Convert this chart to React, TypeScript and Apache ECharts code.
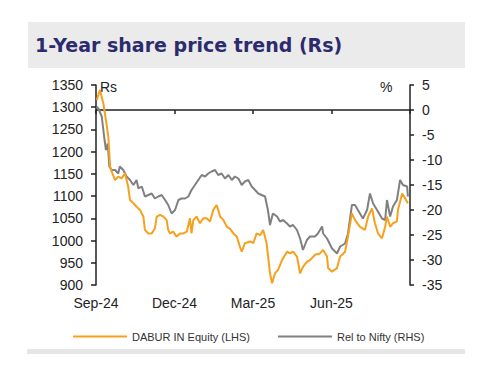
import React, { useEffect, useRef } from "react";
import * as echarts from "echarts";

// x positions in months from Sep-24
const daburMonths = [0.03,0.15,0.28,0.38,0.47,0.54,0.6,0.73,0.85,0.98,1.11,1.23,1.3,1.43,1.55,1.68,1.81,1.87,2.0,2.13,2.25,2.32,2.45,2.57,2.7,2.76,2.83,2.95,3.08,3.21,3.34,3.47,3.59,3.65,3.72,3.85,3.97,4.1,4.23,4.36,4.48,4.61,4.67,4.74,4.87,5.0,5.12,5.25,5.38,5.5,5.57,5.69,5.89,6.01,6.14,6.27,6.39,6.52,6.65,6.73,6.84,6.96,7.11,7.3,7.41,7.53,7.68,7.8,7.91,8.06,8.18,8.37,8.56,8.68,8.83,8.87,9.02,9.21,9.33,9.52,9.63,9.78,9.9,10.09,10.28,10.4,10.55,10.66,10.78,10.93,11.05,11.12,11.24,11.35,11.5,11.54,11.7,11.81,11.92];
const daburPrice = [1316,1339,1309,1271,1234,1166,1155,1136,1144,1140,1151,1121,1091,1084,1076,1069,1054,1024,1016,1016,1027,1054,1058,1054,1046,1024,1016,1020,1009,1016,1016,1020,1050,1016,1046,1054,1039,1050,1050,1043,1069,1080,1069,1054,1046,1031,1027,1016,1009,986,975,994,998,994,1016,1012,1024,994,926,904,926,934,956,975,971,975,964,926,941,952,956,968,971,979,964,938,930,938,964,975,1009,1061,1046,1031,1024,1054,1072,1039,1016,1005,1031,1054,1031,1039,1043,1069,1106,1095,1084];

const relMonths = [0.03,0.09,0.22,0.31,0.38,0.45,0.51,0.6,0.73,0.85,0.91,1.04,1.17,1.3,1.43,1.55,1.62,1.75,1.87,2.0,2.13,2.25,2.38,2.51,2.64,2.76,2.89,3.02,3.15,3.27,3.4,3.53,3.65,3.78,3.91,4.04,4.17,4.29,4.42,4.55,4.67,4.8,4.93,5.06,5.19,5.31,5.44,5.57,5.69,5.82,5.95,6.08,6.2,6.33,6.46,6.57,6.65,6.76,6.92,7.03,7.15,7.3,7.41,7.53,7.68,7.8,7.91,8.06,8.18,8.37,8.48,8.64,8.68,8.83,9.02,9.21,9.33,9.52,9.63,9.78,9.9,10.01,10.2,10.36,10.47,10.59,10.74,10.93,11.05,11.12,11.24,11.35,11.5,11.62,11.73,11.89,11.92];
const relToNifty = [0.7,0.3,-1.3,-5.3,-8,-6.7,-11.3,-12,-12,-12.7,-11.3,-12,-13.3,-14,-15,-14,-15.7,-15.3,-17.3,-17,-16.7,-17.7,-17.3,-17,-18,-19,-20.7,-20,-18,-17.7,-17.7,-17.3,-16,-15,-14,-13,-13.3,-12.7,-12.3,-12,-13,-12.7,-13.7,-13,-14,-13.3,-13.7,-15,-14.3,-14,-15.3,-16,-16.7,-17,-17.3,-20,-23,-20.7,-21.3,-22.3,-22,-22.7,-23.3,-23,-24,-25.7,-28,-26,-25.3,-25.3,-24.7,-23.3,-24.7,-25.7,-27.7,-28.7,-27.3,-26.7,-24.7,-19,-19,-20,-21.7,-20,-16.7,-18.7,-20,-21.7,-22,-18,-21.3,-19.3,-18,-14,-15,-15.3,-17.3];

const xTickLabels = ["Sep-24", "Dec-24", "Mar-25", "Jun-25", ""];
const seriesNames = ["DABUR IN Equity (LHS)", "Rel to Nifty (RHS)"];
const titleText = "1-Year share price trend (Rs)";

export default function App() {
  const ref = useRef<HTMLDivElement>(null);
  useEffect(() => {
    if (!ref.current) return;
    const chart = echarts.init(ref.current, null, { renderer: "svg" });
    const font = "Liberation Sans, Arial, sans-serif";
    chart.setOption({
      animation: false,
      backgroundColor: "#ffffff",
      grid: { left: 96, right: 90, top: 85, bottom: 92, containLabel: false },
      graphic: [
        { type: "rect", left: 28, top: 22, shape: { width: 437, height: 46 }, style: { fill: "#ebebeb" }, z: 0 },
        { type: "text", left: 35, top: 35, style: { text: titleText, font: "bold 19px 'DejaVu Sans', Verdana, sans-serif", fill: "#2b2b6e" } },
        { type: "rect", left: 27, top: 349, shape: { width: 438, height: 5 }, style: { fill: "#e6e6e6" } },
        { type: "text", left: 100, top: 80, style: { text: "Rs", font: "14px " + font, fill: "#222222" } },
        { type: "text", left: 380, top: 80, style: { text: "%", font: "14px " + font, fill: "#222222" } },
      ],
      legend: {
        data: seriesNames,
        left: 68,
        top: 326,
        itemWidth: 54,
        itemHeight: 14,
        itemGap: 28,
        icon: "path://M0,6 L54,6 L54,8 L0,8 Z",
        textStyle: { fontFamily: font, fontSize: 11, color: "#333333" },
      },
      xAxis: {
        type: "value",
        min: 0,
        max: 12,
        interval: 3,
        splitLine: { show: false },
        axisLine: { lineStyle: { color: "#222222", width: 1.5 } },
        axisTick: { show: true, length: 4, lineStyle: { color: "#222222", width: 1.5 } },
        axisLabel: {
          margin: 11,
          fontFamily: font,
          fontSize: 14,
          color: "#222222",
          formatter: (v: number) => xTickLabels[Math.round(v / 3)] ?? "",
        },
      },
      yAxis: [
        {
          type: "value",
          min: 900,
          max: 1350,
          interval: 50,
          position: "left",
          splitLine: { show: false },
          axisLine: { show: true, lineStyle: { color: "#222222", width: 1.5 } },
          axisTick: { show: true, length: 5, lineStyle: { color: "#222222", width: 1.5 } },
          axisLabel: { margin: 13, fontFamily: font, fontSize: 14, color: "#222222", formatter: (v: number) => String(v) },
        },
        {
          type: "value",
          min: -35,
          max: 5,
          interval: 5,
          position: "right",
          splitLine: { show: false },
          axisLine: { show: true, lineStyle: { color: "#222222", width: 1.5 } },
          axisTick: { show: true, length: 4, lineStyle: { color: "#222222", width: 1.5 } },
          axisLabel: { margin: 12, fontFamily: font, fontSize: 14, color: "#222222", formatter: (v: number) => String(v) },
        },
      ],
      series: [
        {
          name: seriesNames[0],
          type: "line",
          yAxisIndex: 0,
          showSymbol: false,
          z: 3,
          itemStyle: { color: "#f7a01e" },
          lineStyle: { color: "#f7a01e", width: 2 },
          data: daburMonths.map((m, i) => [m, daburPrice[i]]),
        },
        {
          name: seriesNames[1],
          type: "line",
          yAxisIndex: 1,
          showSymbol: false,
          z: 2,
          itemStyle: { color: "#808080" },
          lineStyle: { color: "#808080", width: 2 },
          data: relMonths.map((m, i) => [m, relToNifty[i]]),
        },
      ],
    });
    return () => chart.dispose();
  }, []);
  return <div ref={ref} style={{ width: 500, height: 377, position: "absolute", left: 0, top: 0 }} />;
}
